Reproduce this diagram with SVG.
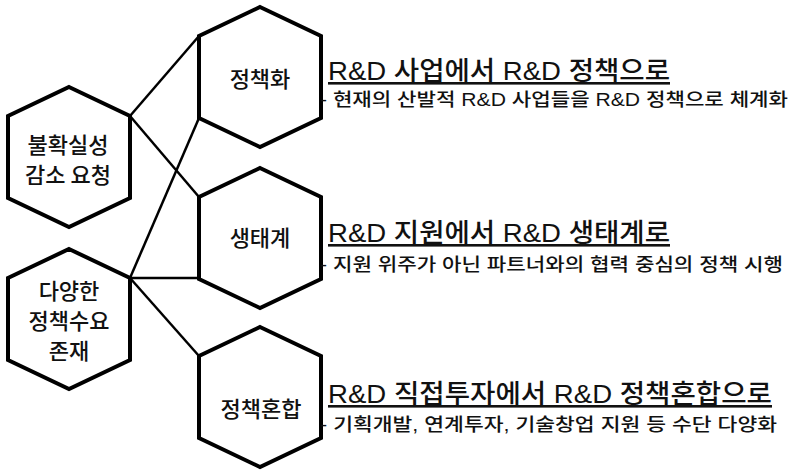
<svg xmlns="http://www.w3.org/2000/svg" width="794" height="472" viewBox="0 0 794 472">
<style>
.hex{fill:#fff;stroke:#000;stroke-width:4;stroke-linejoin:miter}
.con{stroke:#000;stroke-width:2.5;fill:none}
.hl{font-family:"Noto Sans CJK KR",sans-serif;font-size:22px;font-weight:500;fill:#111;text-anchor:middle}
.tt{font-family:"Liberation Sans","Noto Sans CJK KR",sans-serif;font-size:26px;font-weight:500;fill:#111;text-decoration:underline}
.st{font-family:"Liberation Sans","Noto Sans CJK KR",sans-serif;font-size:18px;font-weight:500;fill:#111}
</style>
<defs>
<polygon id="hexshape" points="0,-70 61,-41 61,41 0,70 -61,41 -61,-41"/>
</defs>
<rect width="794" height="472" fill="#fff"/>
<g id="connectors">
<path class="con" d="M130,116 L199,36"/>
<path class="con" d="M130,116 L199,197"/>
<path class="con" d="M199,118 L130,278"/>
<path class="con" d="M130,278 L199,278"/>
<path class="con" d="M130,278 L199,356"/>
</g>
<g id="node-uncertainty">
<use href="#hexshape" class="hex" transform="translate(69,157)"/>
<text class="hl" y="153"><tspan x="68">불확실성</tspan><tspan x="68" dy="30">감소 요청</tspan></text>
</g>
<g id="node-demand">
<use href="#hexshape" class="hex" transform="translate(69,319)"/>
<text class="hl" y="299"><tspan x="69">다양한</tspan><tspan x="69" dy="30">정책수요</tspan><tspan x="69" dy="30">존재</tspan></text>
</g>
<g id="node-policy">
<use href="#hexshape" class="hex" transform="translate(260,77)"/>
<text class="hl" x="260" y="87">정책화</text>
</g>
<g id="node-ecosystem">
<use href="#hexshape" class="hex" transform="translate(260,238)"/>
<text class="hl" x="260" y="246">생태계</text>
</g>
<g id="node-mix">
<use href="#hexshape" class="hex" transform="translate(260,397)"/>
<text class="hl" x="261" y="417">정책혼합</text>
</g>
<g id="desc-1">
<text class="tt" x="328" y="80" textLength="342" lengthAdjust="spacingAndGlyphs">R&amp;D 사업에서 R&amp;D 정책으로</text>
<text class="st" x="320" y="106" textLength="468" lengthAdjust="spacingAndGlyphs">- 현재의 산발적 R&amp;D 사업들을 R&amp;D 정책으로 체계화</text>
</g>
<g id="desc-2">
<text class="tt" x="328" y="242" textLength="342" lengthAdjust="spacingAndGlyphs">R&amp;D 지원에서 R&amp;D 생태계로</text>
<text class="st" x="320" y="271" textLength="463" lengthAdjust="spacingAndGlyphs">- 지원 위주가 아닌 파트너와의 협력 중심의 정책 시행</text>
</g>
<g id="desc-3">
<text class="tt" x="328" y="403" textLength="444" lengthAdjust="spacingAndGlyphs">R&amp;D 직접투자에서 R&amp;D 정책혼합으로</text>
<text class="st" x="320" y="431" textLength="457" lengthAdjust="spacingAndGlyphs">- 기획개발, 연계투자, 기술창업 지원 등 수단 다양화</text>
</g>
</svg>
